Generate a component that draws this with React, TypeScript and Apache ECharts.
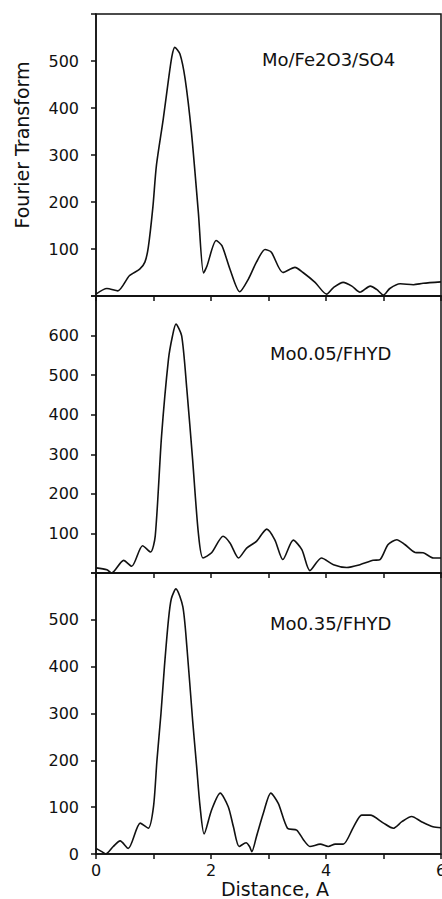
import React, { useEffect, useRef } from "react";
import * as echarts from "echarts";

// Panel 1: Mo/Fe2O3/SO4
const dist1 = [0, 0.19, 0.38, 0.58, 0.76, 0.85, 0.91, 0.99, 1.05, 1.17, 1.26, 1.32, 1.37, 1.46, 1.55, 1.66, 1.78, 1.87, 1.93, 2.09, 2.19, 2.33, 2.5, 2.65, 2.79, 2.94, 3.05, 3.25, 3.46, 3.6, 3.81, 4.01, 4.13, 4.3, 4.45, 4.59, 4.77, 4.88, 5.0, 5.11, 5.29, 5.52, 5.69, 6.0];
const ft1 = [4, 16, 11, 43, 57, 72, 104, 190, 277, 377, 460, 510, 529, 515, 462, 348, 178, 49, 64, 118, 107, 57, 9, 36, 72, 99, 93, 50, 61, 50, 29, 4, 18, 29, 21, 8, 21, 14, 2, 16, 26, 24, 27, 30];

// Panel 2: Mo0.05/FHYD
const dist2 = [0, 0.19, 0.27, 0.48, 0.62, 0.81, 0.95, 1.03, 1.14, 1.26, 1.33, 1.39, 1.49, 1.58, 1.68, 1.78, 1.86, 2.01, 2.21, 2.33, 2.48, 2.62, 2.79, 2.97, 3.11, 3.25, 3.43, 3.58, 3.72, 3.92, 4.13, 4.36, 4.59, 4.82, 4.94, 5.08, 5.23, 5.37, 5.55, 5.69, 5.87, 6.0];
const ft2 = [13, 8, 0, 32, 17, 69, 53, 93, 346, 540, 599, 629, 599, 464, 287, 101, 38, 51, 93, 76, 38, 63, 80, 111, 84, 34, 83, 59, 6, 38, 21, 14, 21, 32, 34, 72, 84, 72, 52, 51, 38, 38];

// Panel 3: Mo0.35/FHYD
const dist3 = [0, 0.1, 0.17, 0.3, 0.42, 0.56, 0.77, 0.91, 1.0, 1.06, 1.13, 1.19, 1.26, 1.31, 1.39, 1.51, 1.58, 1.68, 1.75, 1.81, 1.88, 2.01, 2.16, 2.3, 2.39, 2.49, 2.61, 2.67, 2.71, 2.79, 2.91, 3.04, 3.17, 3.33, 3.49, 3.61, 3.72, 3.9, 4.04, 4.16, 4.3, 4.48, 4.62, 4.77, 5.0, 5.17, 5.32, 5.49, 5.66, 5.86, 6.0];
const ft3 = [12, 5, 0, 16, 28, 12, 66, 55, 101, 200, 300, 400, 500, 545, 566, 528, 443, 286, 187, 101, 43, 94, 130, 101, 58, 16, 24, 16, 5, 37, 87, 130, 108, 55, 51, 30, 16, 21, 16, 21, 21, 58, 83, 83, 66, 55, 69, 80, 69, 58, 56];

const panelLabels = ["Mo/Fe2O3/SO4", "Mo0.05/FHYD", "Mo0.35/FHYD"];
const yMaxes = [600, 700, 600];
const xTicks = [0, 1, 2, 3, 4, 5, 6];

const FONT = "'DejaVu Sans', 'Liberation Sans', Arial, sans-serif";
const INK = "#111";

export default function App() {
  const ref = useRef<HTMLDivElement>(null);
  useEffect(() => {
    if (!ref.current) return;
    const chart = echarts.init(ref.current, null, { renderer: "svg" });
    const grids = [
      { left: 96, top: 14, width: 345, height: 282 },
      { left: 96, top: 296, width: 345, height: 277 },
      { left: 96, top: 573, width: 345, height: 281 },
    ].map((g) => ({
      ...g,
      show: true,
      containLabel: false,
      outerBoundsMode: "none",
      borderColor: INK,
      borderWidth: 1.5,
      backgroundColor: "transparent",
    }));

    const xAxes = [0, 1, 2].map((i) => ({
      type: "value",
      gridIndex: i,
      min: xTicks[0],
      max: xTicks[xTicks.length - 1],
      interval: 1,
      axisLine: { show: true, lineStyle: { color: INK, width: 1.5 } },
      axisTick: { show: true, inside: false, length: 5, lineStyle: { color: INK, width: 1.5 } },
      axisLabel: {
        show: i === 2,
        fontSize: 16,
        fontFamily: FONT,
        color: INK,
        margin: 8,
        alignMinLabel: "center",
        alignMaxLabel: "center",
        formatter: (v: number) => (v % 2 === 0 ? String(v) : ""),
      },
      splitLine: { show: false },
    }));

    const yAxes = [0, 1, 2].map((i) => ({
      type: "value",
      gridIndex: i,
      min: 0,
      max: yMaxes[i],
      interval: 100,
      axisLine: { show: true, lineStyle: { color: INK, width: 1.5 } },
      axisTick: { show: true, inside: false, length: 5, lineStyle: { color: INK, width: 1.5 } },
      axisLabel: {
        fontSize: 16,
        fontFamily: FONT,
        color: INK,
        margin: 17,
        formatter: (v: number) => {
          if (v === yMaxes[i]) return "";
          if (v === 0 && i !== 2) return "";
          return String(v);
        },
      },
      splitLine: { show: false },
    }));

    const datasets = [
      [dist1, ft1],
      [dist2, ft2],
      [dist3, ft3],
    ];
    const series = datasets.map(([d, v], i) => ({
      type: "line",
      xAxisIndex: i,
      yAxisIndex: i,
      data: d.map((x, k) => [x, v[k]]),
      smooth: 0.25,
      showSymbol: false,
      lineStyle: { color: INK, width: 1.6 },
    }));

    const labelPos = [
      { x: 262, y: 59 },
      { x: 270, y: 353 },
      { x: 270, y: 623 },
    ];
    const graphic: any[] = panelLabels.map((t, i) => ({
      type: "text",
      x: labelPos[i].x,
      y: labelPos[i].y,
      style: { text: t, fontSize: 18, fontFamily: FONT, fill: INK, textAlign: "left", textVerticalAlign: "middle" },
    }));
    graphic.push({
      type: "text",
      x: 22,
      y: 145,
      rotation: Math.PI / 2,
      style: { text: "Fourier Transform", fontSize: 19, fontFamily: FONT, fill: INK, textAlign: "center", textVerticalAlign: "middle" },
    });
    graphic.push({
      type: "text",
      x: 275,
      y: 889,
      style: { text: "Distance, A", fontSize: 19, fontFamily: FONT, fill: INK, textAlign: "center", textVerticalAlign: "middle" },
    });

    chart.setOption({
      animation: false,
      backgroundColor: "#fff",
      grid: grids,
      xAxis: xAxes,
      yAxis: yAxes,
      series,
      graphic,
    });
    return () => chart.dispose();
  }, []);
  return (
    <div
      ref={ref}
      style={{ position: "fixed", left: 0, top: 0, width: 442, height: 899, background: "#fff" }}
    />
  );
}
